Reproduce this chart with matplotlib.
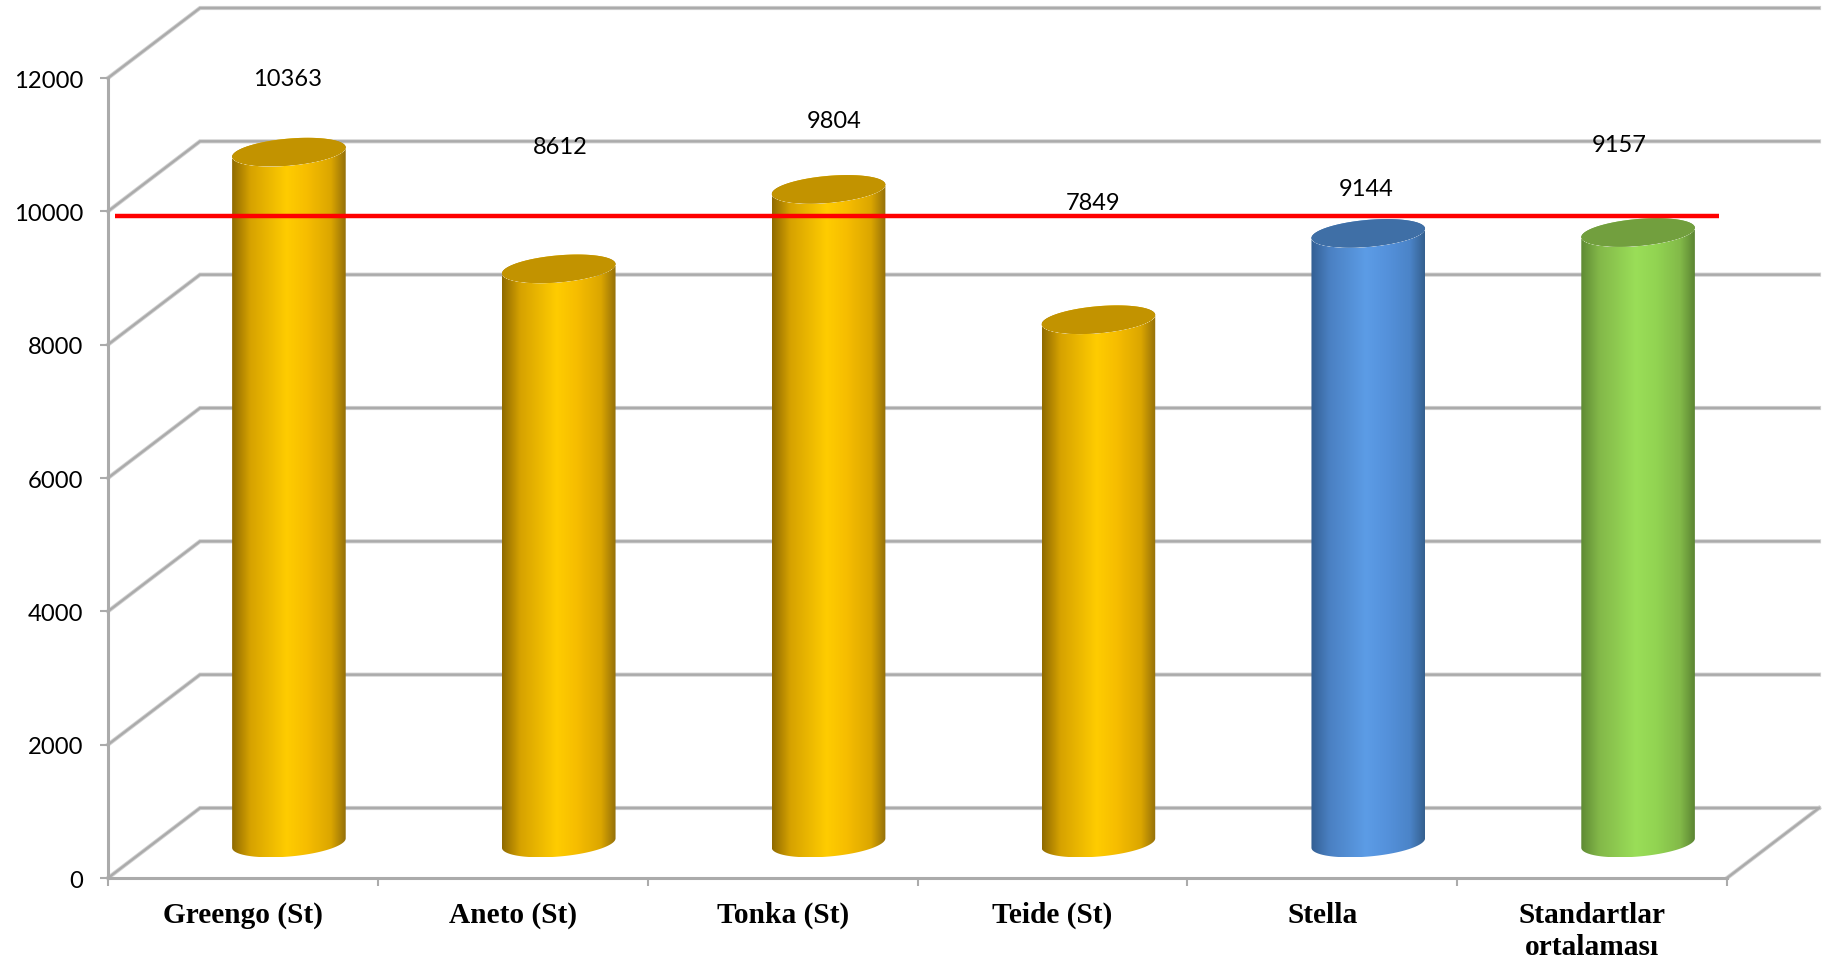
import matplotlib
matplotlib.use("Agg")
import matplotlib.pyplot as plt
from matplotlib.colors import LinearSegmentedColormap
from matplotlib.patches import Polygon
from matplotlib.transforms import ScaledTranslation
import numpy as np

# data
categories = ["Greengo (St)", "Aneto (St)", "Tonka (St)", "Teide (St)", "Stella", "Standartlar\nortalaması"]
values = [10363, 8612, 9804, 7849, 9144, 9157]
value_labels = ["10363", "8612", "9804", "7849", "9144", "9157"]
y_ticks = [0, 2000, 4000, 6000, 8000, 10000, 12000]
red_line_value = 9925

# where the labels sit (the labels float away from the bars in the original)
label_x = [0.664, 1.677, 2.69, 3.652, 4.664, 5.602]
label_y = [11974, 10954, 11344, 10114, 10324, 10984]

# bar colours: edge, middle, edge, top
gold = ["#8f6a00", "#d6a200", "#ffcc00", "#f6bd00", "#dba600", "#94700a", "#c29300"]
blue = ["#335f93", "#4a80c2", "#5c9ce6", "#5592dc", "#4b84c8", "#35608f", "#3f6fa6"]
green = ["#5f8a34", "#83b849", "#9ade58", "#92d452", "#83ba49", "#5c8533", "#729f3e"]
bar_colors = [gold, gold, gold, gold, blue, green]
grad_stops = [0, 0.16, 0.48, 0.66, 0.87, 1]

W, H = 1829, 963
X0, X1 = 108, 1727    # front floor edge in pixels
Y0, Y12 = 878, 78     # front axis, 0 and 12000
DEPTH_X, DEPTH_Y = 92, 70
GRID = "#ababab"

fig = plt.figure(figsize=(W / 100, H / 100), dpi=100, facecolor="white")
ax = fig.add_axes([X0 / W, 1 - Y0 / H, (X1 - X0) / W, (Y0 - Y12) / H])
ax.set_xlim(0, 6)
ax.set_ylim(0, 12000)

ux = 6 / (X1 - X0)        # x units per pixel
uy = 12000 / (Y0 - Y12)   # y units per pixel
dx, dy = DEPTH_X * ux, DEPTH_Y * uy


def ellipse_points(cx, cy, t):
    # tilted ellipse, worked out in pixels then put into data units
    a, b, tilt = 57.0, 13.5, np.radians(5)
    px = a * np.cos(t) * np.cos(tilt) - b * np.sin(t) * np.sin(tilt)
    py = a * np.cos(t) * np.sin(tilt) + b * np.sin(t) * np.cos(tilt)
    return cx + px * ux, cy + py * uy


def draw_bar(i, value, cols):
    cx = i + 0.5 + dx / 2
    cy = dy / 2
    t = np.linspace(0, 2 * np.pi, 361)

    # widest points of the ellipse
    ex, ey = ellipse_points(0, 0, t)
    right, left = np.argmax(ex), np.argmin(ex)
    lower = np.linspace(t[left], t[right], 120)
    if ellipse_points(0, 0, lower[60])[1] > 0:
        lower = np.linspace(t[left], t[right] - 2 * np.pi, 120)
    upper = np.linspace(t[right], t[left], 120)
    if ellipse_points(0, 0, upper[60])[1] < 0:
        upper = np.linspace(t[right], t[left] - 2 * np.pi, 120)

    bx, by = ellipse_points(cx, cy, lower)
    tx, ty = ellipse_points(cx, cy + value, upper)
    xs = np.r_[bx, tx]
    ys = np.r_[by, ty]
    body = Polygon(np.c_[xs, ys], closed=True, transform=ax.transData, fc="none", ec="none")
    ax.add_patch(body)

    cmap = LinearSegmentedColormap.from_list("bar", list(zip(grad_stops, cols[:6])))
    grad = np.linspace(0, 1, 256).reshape(1, -1)
    im = ax.imshow(grad, cmap=cmap, aspect="auto", zorder=3,
                   extent=[xs.min(), xs.max(), ys.min(), ys.max()])
    im.set_clip_path(body)

    px, py = ellipse_points(cx, cy + value, t)
    ax.fill(px, py, color=cols[6], zorder=4, lw=0, clip_on=False)


# back wall grid and side wall lines
for tick in y_ticks:
    xs = [0, dx, 6 + dx]
    ys = [tick, tick + dy, tick + dy]
    ax.plot(xs, ys, color="#d2d2d2", lw=3.0, zorder=1, clip_on=False, solid_joinstyle="miter")
    ax.plot(xs, ys, color=GRID, lw=1.7, zorder=1.1, clip_on=False, solid_joinstyle="miter")
# right edge of the floor
ax.plot([6, 6 + dx], [0, dy], color="#d2d2d2", lw=3.0, zorder=1, clip_on=False)
ax.plot([6, 6 + dx], [0, dy], color=GRID, lw=1.7, zorder=1.1, clip_on=False)

for i, v in enumerate(values):
    draw_bar(i, v, bar_colors[i])
ax.set_xlim(0, 6)
ax.set_ylim(0, 12000)

ax.plot([7 * ux, 6 - 8 * ux], [red_line_value, red_line_value], color="#ff0000", lw=3.2, zorder=6,
        clip_on=False, solid_capstyle="butt")

for x, y, s in zip(label_x, label_y, value_labels):
    ax.text(x, y, s, family="Lato", fontsize=17, color="black", ha="center", va="center",
            zorder=7, clip_on=False)

# axes
for side in ["top", "right"]:
    ax.spines[side].set_visible(False)
for side in ["left", "bottom"]:
    ax.spines[side].set_color(GRID)
    ax.spines[side].set_linewidth(2.2)
ax.patch.set_alpha(0)
ax.set_yticks(y_ticks)
ax.set_yticklabels([str(t) for t in y_ticks], family="Lato", fontsize=17.2, color="black")
ax.tick_params(axis="y", length=6, width=1.5, color=GRID, pad=12)
# tick labels sit a little low in the original
nudge = ScaledTranslation(0, -1 / 100, fig.dpi_scale_trans)
for lab in ax.get_yticklabels():
    lab.set_transform(lab.get_transform() + nudge)
ax.set_xticks(range(7))
ax.set_xticklabels([])
ax.tick_params(axis="x", which="major", length=6, width=1.5, color=GRID)
ax.set_xticks(np.arange(6) + 0.5, minor=True)
ax.set_xticklabels(categories, minor=True, family="Liberation Serif", fontweight="bold",
                   fontsize=21.2, color="black", linespacing=1.25)
ax.tick_params(axis="x", which="minor", length=0, pad=17)

fig.savefig("out.png", dpi=100)
